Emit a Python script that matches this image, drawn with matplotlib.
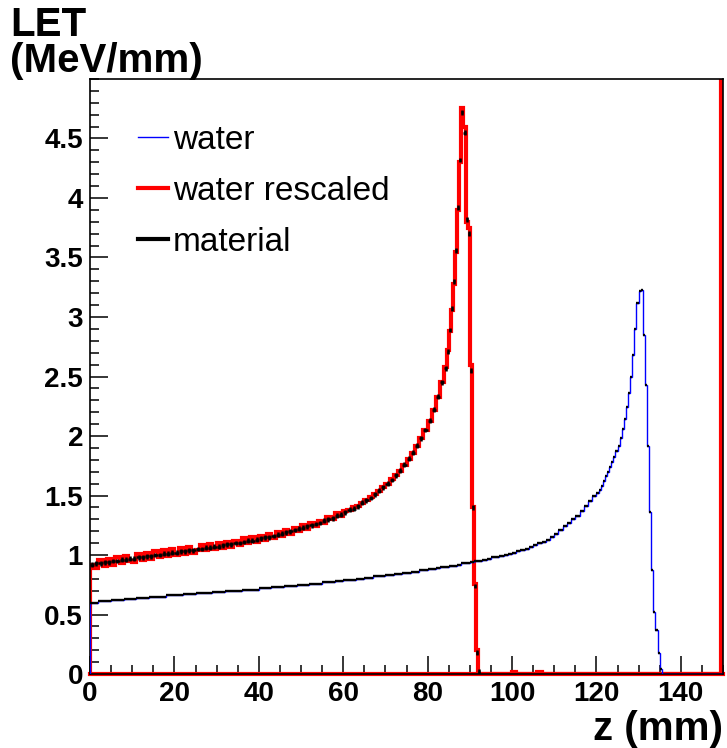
import numpy as np
import matplotlib
matplotlib.use("Agg")
import matplotlib.pyplot as plt
from matplotlib.ticker import MultipleLocator, FuncFormatter
from matplotlib.lines import Line2D

plt.rcParams['font.family'] = ['Liberation Sans', 'DejaVu Sans']

# --- water (original depth) : 1 mm bins up to 120 mm, 0.5 mm around the Bragg peak
water_edges = np.concatenate([np.arange(0, 120, 1.0), np.arange(120, 137, 0.5), np.arange(137, 150.5, 1.0)])
water_plateau = [
    0.60, 0.60, 0.61, 0.61, 0.61, 0.62, 0.62, 0.62, 0.63, 0.63,
    0.63, 0.64, 0.64, 0.64, 0.65, 0.65, 0.65, 0.65, 0.66, 0.66,
    0.66, 0.66, 0.67, 0.67, 0.67, 0.68, 0.68, 0.68, 0.68, 0.69,
    0.69, 0.69, 0.70, 0.70, 0.70, 0.70, 0.71, 0.71, 0.71, 0.71,
    0.72, 0.72, 0.72, 0.73, 0.73, 0.73, 0.74, 0.74, 0.74, 0.75,
    0.75, 0.75, 0.76, 0.76, 0.76, 0.77, 0.77, 0.77, 0.78, 0.78,
    0.79, 0.79, 0.79, 0.80, 0.80, 0.81, 0.81, 0.82, 0.82, 0.82,
    0.83, 0.83, 0.84, 0.84, 0.85, 0.85, 0.86, 0.86, 0.87, 0.87,
    0.88, 0.88, 0.89, 0.90, 0.90, 0.91, 0.91, 0.92, 0.93, 0.93,
    0.94, 0.95, 0.95, 0.96, 0.97, 0.98, 0.98, 0.99, 1.00, 1.01,
    1.02, 1.03, 1.04, 1.05, 1.07, 1.08, 1.10, 1.11, 1.13, 1.15,
    1.18, 1.21, 1.24, 1.27, 1.30, 1.33, 1.37, 1.41, 1.45, 1.50,
]
water_peak = [
    1.52, 1.55, 1.58, 1.62, 1.66, 1.70, 1.74, 1.78, 1.82, 1.87,
    1.92, 1.98, 2.06, 2.14, 2.24, 2.36, 2.50, 2.68, 2.90, 3.12,
    3.22, 3.23, 2.85, 2.43, 1.92, 1.36, 0.87, 0.52, 0.37, 0.18,
    0.04, 0.0, 0.0, 0.0,
]
water_tail = [0.0] * 13
water = np.array(water_plateau + water_peak + water_tail)

# --- water rescaled to the material range / material itself
rescaled_edges = np.concatenate([np.arange(0, 84, 1.0), np.arange(84, 93, 0.5),
                                 np.arange(93, 149.5, 1.0), [149.5, 150.0]])
rescaled_plateau = [
    0.92, 0.89, 0.96, 0.91, 0.97, 0.92, 0.98, 0.93, 0.99, 0.95,
    0.94, 1.01, 0.96, 1.02, 0.97, 1.03, 0.98, 1.04, 0.99, 1.05,
    1.00, 1.06, 1.01, 1.07, 1.02, 1.04, 1.08, 1.04, 1.09, 1.05,
    1.10, 1.06, 1.11, 1.07, 1.12, 1.08, 1.14, 1.10, 1.15, 1.11,
    1.16, 1.13, 1.18, 1.14, 1.19, 1.16, 1.21, 1.18, 1.23, 1.20,
    1.25, 1.22, 1.27, 1.24, 1.29, 1.27, 1.32, 1.30, 1.35, 1.33,
    1.37, 1.38, 1.40, 1.41, 1.44, 1.46, 1.49, 1.51, 1.54, 1.57,
    1.60, 1.64, 1.67, 1.71, 1.76, 1.81, 1.86, 1.92, 1.98, 2.05,
    2.13, 2.22, 2.33, 2.45,
]
rescaled_peak = [
    2.58, 2.72, 2.88, 3.06, 3.28, 3.55, 3.90, 4.30, 4.76, 4.60,
    3.80, 3.75, 2.60, 1.40, 0.76, 0.20, 0.0, 0.0,
]
# last bin is the overflow, far off scale
rescaled_tail = [0.0] * 7 + [0.02] + [0.0] * 5 + [0.015] + [0.0] * 43 + [20.0]
rescaled = np.array(rescaled_plateau + rescaled_peak + rescaled_tail)

material_plateau = [
    0.92, 0.93, 0.93, 0.94, 0.94, 0.95, 0.95, 0.96, 0.96, 0.97,
    0.97, 0.98, 0.98, 0.99, 0.99, 1.00, 1.00, 1.01, 1.01, 1.02,
    1.02, 1.03, 1.03, 1.04, 1.04, 1.05, 1.05, 1.06, 1.06, 1.07,
    1.07, 1.08, 1.09, 1.09, 1.10, 1.10, 1.11, 1.12, 1.12, 1.13,
    1.14, 1.15, 1.15, 1.16, 1.17, 1.18, 1.19, 1.20, 1.21, 1.22,
    1.23, 1.24, 1.25, 1.26, 1.27, 1.29, 1.30, 1.31, 1.33, 1.34,
    1.36, 1.38, 1.39, 1.41, 1.44, 1.46, 1.48, 1.51, 1.54, 1.57,
    1.60, 1.63, 1.67, 1.71, 1.76, 1.81, 1.86, 1.92, 1.98, 2.05,
    2.13, 2.22, 2.33, 2.45,
]
material_peak = [
    2.57, 2.71, 2.89, 3.07, 3.30, 3.56, 3.92, 4.32, 4.72, 4.55,
    3.82, 3.70, 2.55, 1.40, 0.74, 0.18, 0.02, 0.0,
]
material_tail = [0.0] * 58
material = np.array(material_plateau + material_peak + material_tail)

fig = plt.figure(figsize=(7.27, 7.48), dpi=100)
ax = fig.add_axes([0.1238, 0.0989, 0.8707, 0.7955])

# water rescaled (thick red outline, closed along the baseline)
ax.stairs(rescaled, rescaled_edges, color='red', lw=3, baseline=0, zorder=2)
ax.plot(rescaled_edges[[0, -1]], [0, 0], color='red', lw=3, clip_on=False, zorder=2)

# water
ax.stairs(water, water_edges, color='blue', lw=1, baseline=0, zorder=3)

# bin markers (horizontal bars over each bin)
wc = 0.5 * (water_edges[:-1] + water_edges[1:])
ww = 0.5 * np.diff(water_edges)
m = water > 0
ax.errorbar(wc[m], water[m], xerr=ww[m], fmt='none', ecolor='black', elinewidth=1.7, zorder=4)

mc = 0.5 * (rescaled_edges[:-1] + rescaled_edges[1:])
mw = 0.5 * np.diff(rescaled_edges)
m = material > 0
ax.errorbar(mc[m], material[m], xerr=mw[m], yerr=0.02, fmt='none', ecolor='black',
            elinewidth=1.8, zorder=4)

ax.set_xlim(0, 150)
ax.set_ylim(0, 5.0)

ax.set_xticks(np.arange(0, 141, 20))
ax.xaxis.set_minor_locator(MultipleLocator(5))
ax.set_yticks(np.arange(0, 4.51, 0.5))
ax.yaxis.set_minor_locator(MultipleLocator(0.1))
ax.yaxis.set_major_formatter(FuncFormatter(lambda v, p: '%g' % v))
ax.tick_params(which='both', direction='in', top=False, right=False, width=1.1, colors='black')
ax.tick_params(which='major', length=13, labelsize=20, pad=5)
ax.tick_params(which='minor', length=6.5)
for lab in ax.get_xticklabels() + ax.get_yticklabels():
    lab.set_fontweight('bold')
for s in ax.spines.values():
    s.set_linewidth(1.2)

fig.text(0.014, 0.992, 'LET\n(MeV/mm)', ha='left', va='top', fontsize=29,
         fontweight='bold', linespacing=0.92)
fig.text(0.994, 0.0, 'z (mm)', ha='right', va='bottom', fontsize=29, fontweight='bold')

handles = [Line2D([], [], color='blue', lw=1),
           Line2D([], [], color='red', lw=3),
           Line2D([], [], color='black', lw=3)]
ax.legend(handles, ['water', 'water rescaled', 'material'], loc='upper left',
          bbox_to_anchor=(0.076, 0.923), frameon=False, fontsize=24, borderpad=0,
          handlelength=0.9, handletextpad=0.15, labelspacing=0.6, borderaxespad=0)

fig.savefig('out.png', dpi=100)
